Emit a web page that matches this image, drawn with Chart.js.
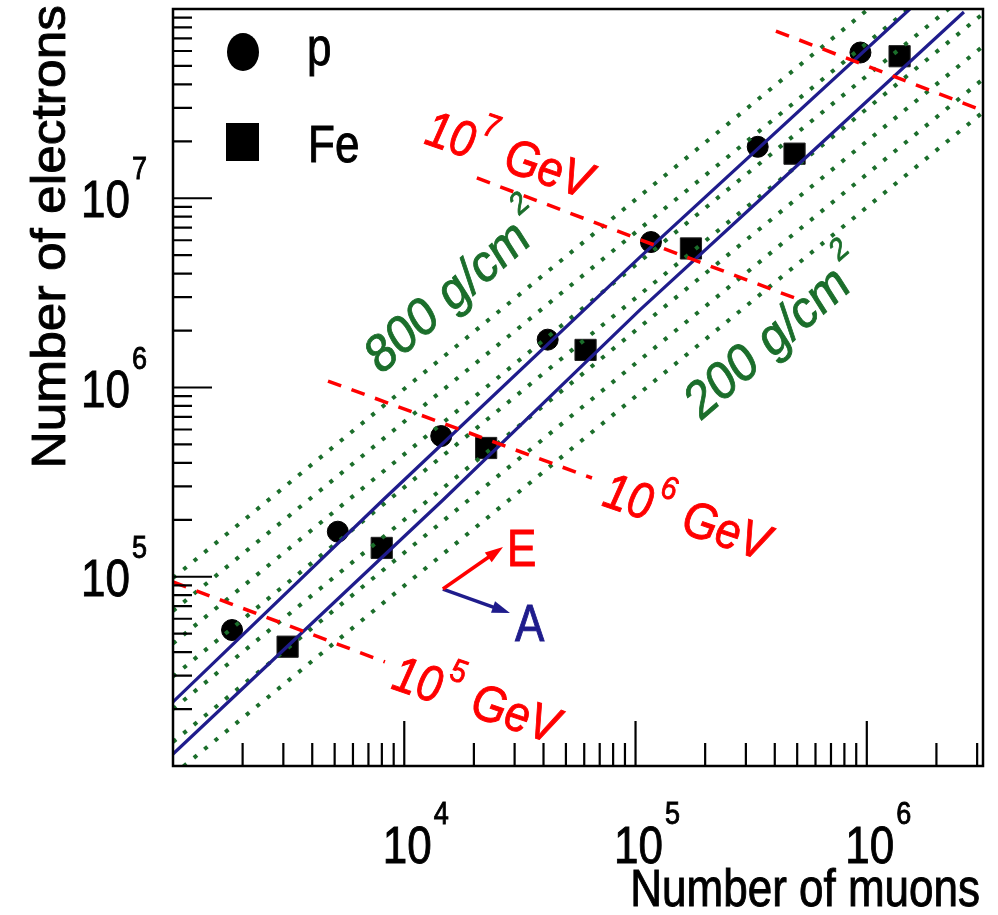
<!DOCTYPE html>
<html>
<head>
<meta charset="UTF-8">
<title>Number of electrons vs number of muons</title>
<script src="https://cdn.jsdelivr.net/npm/chart.js"></script>
<style>
  html, body { margin: 0; padding: 0; background: #fff; }
  canvas { display: block; }
</style>
</head>
<body>
<canvas id="chart" width="998" height="915"></canvas>
<script>
// simulated showers: muons (x) and electrons (y)
const pMuons      = [1800, 5160, 14450, 41700, 116600, 337500, 938500];
const pElectrons  = [52300, 173000, 554000, 1.79e6, 5.87e6, 1.87e7, 5.89e7];
const feMuons     = [3130, 7990, 22600, 60800, 173600, 487000, 1.386e6];
const feElectrons = [42700, 142000, 479000, 1.58e6, 5.43e6, 1.72e7, 5.63e7];

// blue fitted curves (upper = p, lower = Fe)
const blueUpperX = [1000, 8090, 104500, 1.536e6];
const blueUpperY = [21800, 254400, 4.89e6, 1e8];
const blueLowerX = [1000, 14700, 104500, 355500, 2.63e6];
const blueLowerY = [11570, 254400, 2.57e6, 1.015e7, 9.64e7];

// red constant-energy lines (10^5, 10^6, 10^7, 10^8 GeV)
const energyStartX = [1000, 4680, 20600, 404600];
const energyStartY = [93800, 1.082e6, 1.28e7, 7.65e7];
const energyEndX   = [8250, 64800, 514000, 2.96e6];
const energyEndY   = [35450, 332500, 2.9e6, 3.0e7];

// green dotted constant-depth lines, 800 ... 200 g/cm2
const depthStartX = [1000, 1000, 1000, 1000, 1000, 1000, 1000];
const depthStartY = [98400, 66000, 44400, 29700, 20000, 13400, 8970];
const depthEndX   = [3.18e6, 3.18e6, 3.18e6, 3.18e6, 3.18e6, 3.18e6, 3.18e6];
const depthEndY   = [3.13e8, 2.10e8, 1.41e8, 9.44e7, 6.36e7, 4.26e7, 2.85e7];

// axis ticks and labels
const xMajor = [1e4, 1e5, 1e6];
const xMajorExp = ['4', '5', '6'];
const yMajor = [1e5, 1e6, 1e7];
const yMajorExp = ['5', '6', '7'];
const minorSteps = [2, 3, 4, 5, 6, 7, 8, 9];

const RED = '#ff0000';
const NAVY = '#1f1c8c';
const GREEN = '#1b6e2b';
const FONT = '"Liberation Sans", Arial, Helvetica, sans-serif';
const SY = 1.17; // the picture is stretched vertically

function pairs(xs, ys) {
  return xs.map((v, i) => ({ x: v, y: ys[i] }));
}

const datasets = [];
energyStartX.forEach((_, i) => datasets.push({
  data: [{ x: energyStartX[i], y: energyStartY[i] }, { x: energyEndX[i], y: energyEndY[i] }],
  showLine: true, pointRadius: 0, borderColor: RED, borderWidth: 3.5,
  borderDash: [14, 11], clip: 0, order: 1
}));
datasets.push({ data: pairs(blueUpperX, blueUpperY), showLine: true, pointRadius: 0,
  borderColor: NAVY, borderWidth: 3.2, clip: 0, order: 2 });
datasets.push({ data: pairs(blueLowerX, blueLowerY), showLine: true, pointRadius: 0,
  borderColor: NAVY, borderWidth: 3.2, clip: 0, order: 2 });
depthStartX.forEach((_, i) => datasets.push({
  data: [{ x: depthStartX[i], y: depthStartY[i] }, { x: depthEndX[i], y: depthEndY[i] }],
  showLine: true, pointRadius: 0, borderColor: GREEN, borderWidth: 4,
  borderDash: [4, 9.5], clip: 0, order: 3
}));
datasets.push({ label: 'p', data: pairs(pMuons, pElectrons), pointStyle: 'circle',
  pointRadius: 10.5, backgroundColor: '#000', borderColor: '#000', borderWidth: 1, order: 5 });
datasets.push({ label: 'Fe', data: pairs(feMuons, feElectrons), pointStyle: 'rect',
  pointRadius: 15, backgroundColor: '#000', borderColor: '#222', borderWidth: 1, order: 5 });

function paint(ctx, str, x, y, color) {
  ctx.fillStyle = color;
  ctx.strokeStyle = color;
  ctx.lineWidth = 0.8;
  ctx.fillText(str, x, y);
  ctx.strokeText(str, x, y);
}

function sText(ctx, str, x, y, size, color, align, style) {
  ctx.save();
  ctx.translate(x, y);
  ctx.scale(1, SY);
  ctx.font = (style || '') + ' ' + size + 'px ' + FONT;
  ctx.textAlign = align || 'left';
  ctx.textBaseline = 'alphabetic';
  paint(ctx, str, 0, 0, color);
  ctx.restore();
}

// text run along a rotated baseline, parts may be raised (superscripts)
function richText(ctx, x, y, rot, color, style, parts) {
  ctx.save();
  ctx.translate(x, y);
  ctx.scale(1, SY);
  ctx.rotate(rot);
  ctx.textBaseline = 'alphabetic';
  let cx = 0;
  for (const p of parts) {
    ctx.font = style + ' ' + p.size + 'px ' + FONT;
    cx += p.dx || 0;
    paint(ctx, p.t, cx, p.dy || 0, color);
    cx += ctx.measureText(p.t).width;
  }
  ctx.restore();
}

function arrow(ctx, x0, y0, x1, y1, color) {
  const ang = Math.atan2(y1 - y0, x1 - x0);
  const L = 18, W = 6;
  ctx.save();
  ctx.strokeStyle = color; ctx.fillStyle = color; ctx.lineWidth = 3.5;
  ctx.beginPath();
  ctx.moveTo(x0, y0);
  ctx.lineTo(x1 - L * 0.7 * Math.cos(ang), y1 - L * 0.7 * Math.sin(ang));
  ctx.stroke();
  ctx.beginPath();
  ctx.moveTo(x1, y1);
  ctx.lineTo(x1 - L * Math.cos(ang) - W * Math.sin(ang), y1 - L * Math.sin(ang) + W * Math.cos(ang));
  ctx.lineTo(x1 - L * Math.cos(ang) + W * Math.sin(ang), y1 - L * Math.sin(ang) - W * Math.cos(ang));
  ctx.closePath();
  ctx.fill();
  ctx.restore();
}

const rootFrame = {
  id: 'rootFrame',
  afterDraw(chart) {
    const { ctx, chartArea: a } = chart;
    const xs = chart.scales.x, ys = chart.scales.y;
    // annotation anchors given in log10(data) coordinates
    const at = (lx, ly) => [xs.getPixelForValue(10 ** lx), ys.getPixelForValue(10 ** ly)];

    // frame
    ctx.save();
    ctx.strokeStyle = '#000';
    ctx.lineWidth = 2.5;
    ctx.strokeRect(a.left, a.top, a.right - a.left, a.bottom - a.top);

    // inward ticks
    ctx.lineWidth = 2.2;
    ctx.beginPath();
    for (let e = 3; e <= 6; e++) {
      [1, ...minorSteps].forEach(m => {
        const v = m * 10 ** e;
        if (v <= xs.min * 1.001 || v >= xs.max * 0.999) return;
        const px = xs.getPixelForValue(v);
        ctx.moveTo(px, a.bottom);
        ctx.lineTo(px, a.bottom - (m === 1 ? 45 : 23));
      });
    }
    for (let e = 4; e <= 7; e++) {
      [1, ...minorSteps].forEach(m => {
        const v = m * 10 ** e;
        if (v <= ys.min * 1.001 || v >= ys.max * 0.999) return;
        const py = ys.getPixelForValue(v);
        ctx.moveTo(a.left, py);
        ctx.lineTo(a.left + (m === 1 ? 39 : 19), py);
      });
    }
    ctx.stroke();
    ctx.restore();

    // tick labels 10^n
    ctx.save();
    ctx.font = '44px ' + FONT;
    const w10 = ctx.measureText('10').width;
    ctx.restore();
    xMajor.forEach((v, i) => {
      const px = xs.getPixelForValue(v) + 3;
      sText(ctx, '10', px, a.bottom + 97, 44, '#000', 'center');
      sText(ctx, xMajorExp[i], px + w10 / 2 + 2, a.bottom + 58, 27, '#000', 'left');
    });
    yMajor.forEach((v, i) => {
      const py = ys.getPixelForValue(v);
      sText(ctx, '10', a.left - 43, py + 19, 44, '#000', 'right');
      sText(ctx, yMajorExp[i], a.left - 41, py - 19, 27, '#000', 'left');
    });

    // axis titles
    sText(ctx, 'Number of muons', a.right - 3, a.bottom + 140, 44, '#000', 'right');
    ctx.save();
    ctx.translate(a.left - 108, a.top - 4);
    ctx.rotate(-Math.PI / 2);
    ctx.scale(SY, 1.1);
    ctx.font = '44px ' + FONT;
    ctx.textAlign = 'right';
    paint(ctx, 'Number of electrons', 0, 0, '#000');
    ctx.restore();

    // legend
    ctx.save();
    ctx.fillStyle = '#000';
    ctx.beginPath();
    ctx.ellipse(a.left + 70, a.top + 43, 16, 19, 0, 0, Math.PI * 2);
    ctx.fill();
    ctx.fillRect(a.left + 53, a.top + 114, 33, 38);
    ctx.restore();
    sText(ctx, 'p', a.left + 134, a.top + 56, 44, '#000');
    sText(ctx, 'Fe', a.left + 135, a.top + 153, 44, '#000');

    // energy labels
    const eLabels = [[4.081, 7.292, '7'], [4.850, 5.379, '6'], [3.938, 4.412, '5']];
    eLabels.forEach(([lx, ly, s]) => {
      const [px, py] = at(lx, ly);
      richText(ctx, px, py, 16.4 * Math.PI / 180, RED, 'italic', [
        { t: '10', size: 44 }, { t: s, size: 28, dx: 5, dy: -24 }, { t: 'GeV', size: 44, dx: 13 }
      ]);
    });

    // depth labels
    const dLabels = [[3.895, 6.061, '800 g/cm'], [5.278, 5.818, '200 g/cm']];
    dLabels.forEach(([lx, ly, s]) => {
      const [px, py] = at(lx, ly);
      richText(ctx, px, py, -36.6 * Math.PI / 180, GREEN, '', [
        { t: s, size: 46 }, { t: '2', size: 27, dx: 3, dy: -27 }
      ]);
    });

    // E / A direction arrows
    const [ox, oy] = at(4.167, 4.935);
    const [ex, ey] = at(4.427, 5.157);
    const [ax, ay] = at(4.457, 4.808);
    arrow(ctx, ox, oy, ax, ay, NAVY);
    arrow(ctx, ox, oy, ex, ey, RED);
    const [etx, ety] = at(4.444, 5.057);
    const [atx, aty] = at(4.479, 4.660);
    sText(ctx, 'E', etx, ety, 44, RED);
    sText(ctx, 'A', atx, aty, 44, NAVY);
  }
};

new Chart(document.getElementById('chart'), {
  type: 'scatter',
  data: { datasets },
  options: {
    responsive: false,
    animation: false,
    devicePixelRatio: 1,
    layout: { autoPadding: false, padding: { left: 173, top: 9, right: 15, bottom: 149 } },
    plugins: { legend: { display: false }, tooltip: { enabled: false } },
    scales: {
      x: { type: 'logarithmic', min: 1000, max: 3.18e6, display: false },
      y: { type: 'logarithmic', min: 1e4, max: 1e8, display: false }
    }
  },
  plugins: [rootFrame]
});
</script>
</body>
</html>
